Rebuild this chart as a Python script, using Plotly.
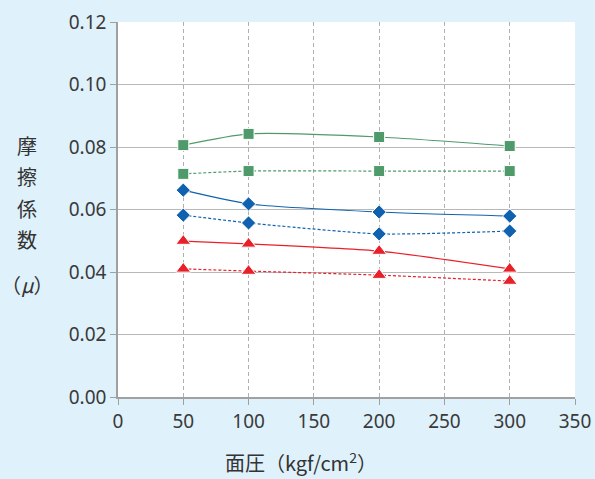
import plotly.graph_objects as go

pressure = [50, 100, 200, 300]
green_solid = [0.0806, 0.0842, 0.0832, 0.0803]
green_dash = [0.0714, 0.0723, 0.0723, 0.0723]
blue_solid = [0.0662, 0.0618, 0.0592, 0.0579]
blue_dash = [0.0582, 0.0557, 0.0522, 0.0531]
red_solid = [0.0499, 0.0490, 0.0467, 0.0410]
red_dash = [0.0410, 0.0403, 0.0390, 0.0371]

GREEN = "#4f9a6b"
BLUE = "#1062b0"
RED = "#e8202a"

series = [
    (green_solid, GREEN, "square", "solid", 11),
    (green_dash, GREEN, "square", "3px,2px", 11),
    (blue_solid, BLUE, "diamond", "solid", 11),
    (blue_dash, BLUE, "diamond", "3px,2px", 11),
    (red_solid, RED, "triangle-up", "solid", 13),
    (red_dash, RED, "triangle-up", "3px,2px", 13),
]

fig = go.Figure()
for ys, col, sym, dash, sz in series:
    fig.add_trace(go.Scatter(
        x=pressure, y=ys, mode="lines+markers",
        line=dict(color=col, width=1.2, dash=dash, shape="spline", smoothing=0.6),
        marker=dict(symbol=sym, size=sz, color=col, line=dict(color="white", width=1)),
        showlegend=False,
    ))

tickfont = dict(family="Noto Sans, Open Sans, sans-serif", size=19, color="#3a3a3a")
fig.update_layout(
    width=595, height=479,
    paper_bgcolor="#dff1fa", plot_bgcolor="white",
    margin=dict(l=118, r=20, t=22, b=82),
    xaxis=dict(range=[0, 350], dtick=50, showgrid=True, gridcolor="#b0b0b0", griddash="4px,3px",
               gridwidth=1, showline=True, linecolor="#a0a0a0", linewidth=1.5, automargin=False,
               ticks="outside", ticklen=6, tickcolor="#a0a0a0", tickfont=tickfont, zeroline=False),
    yaxis=dict(range=[0, 0.12], dtick=0.02, tickformat=".2f", showgrid=True, gridcolor="#b8b8b8",
               gridwidth=1.2, showline=True, linecolor="#a0a0a0", linewidth=1.5, automargin=False,
               ticks="outside", ticklen=6, tickcolor="#a0a0a0", tickfont=tickfont, zeroline=False),
)

cjk = "Noto Sans CJK JP"
for i, ch in enumerate(["摩", "擦", "係", "数"]):
    fig.add_annotation(text=ch, xref="paper", yref="paper", x=-0.20, y=0.67 - i * 0.083,
                       showarrow=False, xanchor="center", yanchor="middle",
                       font=dict(family=cjk, size=20, color="#333333"))
fig.add_annotation(text="（<i>μ</i>）", xref="paper", yref="paper", x=-0.197, y=0.30,
                   showarrow=False, xanchor="center", yanchor="middle",
                   font=dict(family=cjk, size=20, color="#333333"))
fig.add_annotation(text="面圧（kgf/cm<sup>2</sup>）", xref="paper", yref="paper", x=0.40, y=-0.172,
                   showarrow=False, xanchor="center", yanchor="middle",
                   font=dict(family=cjk, size=20, color="#333333"))

fig.write_html("out.html", config={"displayModeBar": False},
               post_script="document.body.style.margin='0';document.body.style.overflow='hidden';")
